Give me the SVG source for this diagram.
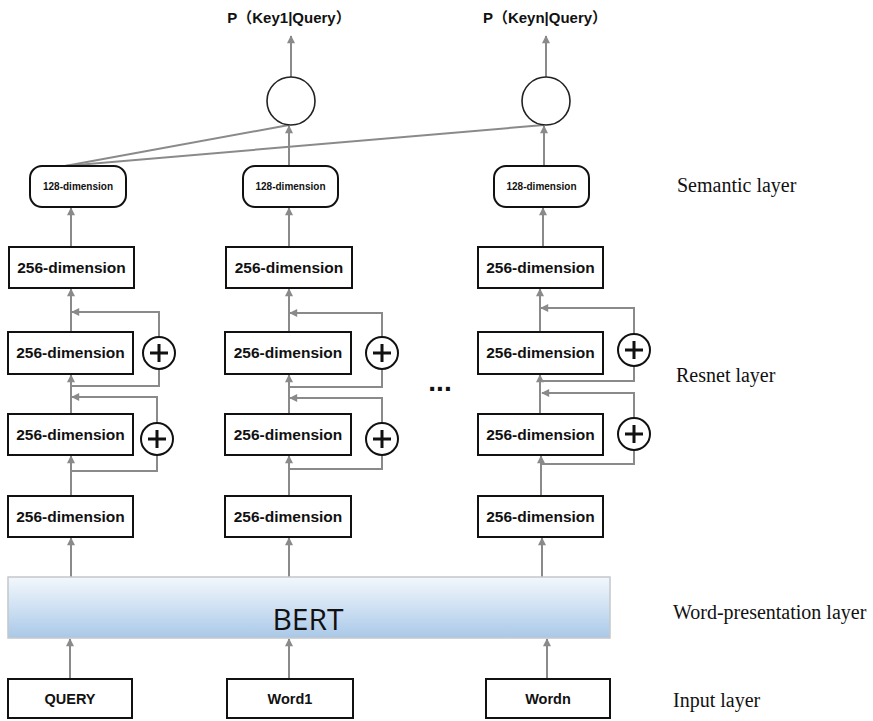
<svg xmlns="http://www.w3.org/2000/svg" width="873" height="721" viewBox="0 0 873 721">
  <style>
    .box { fill: #ffffff; stroke: #111111; stroke-width: 2; }
    .lbl { font-family: "Liberation Sans", Arial, sans-serif; font-weight: bold; fill: #111111; text-anchor: middle; }
    .d256 { font-size: 15.5px; }
    .d128 { font-size: 10px; }
    .title { font-family: "Liberation Sans", "Noto Sans CJK SC", sans-serif; font-weight: bold; font-size: 15px; fill: #111111; text-anchor: middle; }
    .layer { font-family: "Liberation Serif", "Times New Roman", serif; font-size: 20px; fill: #111111; }
    .out { fill: #ffffff; stroke: #222222; stroke-width: 1.6; }
    .plus circle { fill: #ffffff; stroke: #111111; stroke-width: 2; }
    .plus path { stroke: #111111; stroke-width: 3; fill: none; }
    .conn path { fill: none; stroke: #8a8a8a; stroke-width: 2; }
    .conn .arr { marker-end: url(#arrow); }
  </style>
  <defs>
    <marker id="arrow" viewBox="0 0 10 10" refX="9" refY="5" markerWidth="9" markerHeight="8" markerUnits="userSpaceOnUse" orient="auto">
      <path d="M0,0 L10,5 L0,10 z" fill="#8a8a8a"/>
    </marker>
    <linearGradient id="bertFill" x1="0" y1="0" x2="0" y2="1">
      <stop offset="0" stop-color="#f2f7fc"/>
      <stop offset="0.5" stop-color="#cfe1f3"/>
      <stop offset="1" stop-color="#a9c8e7"/>
    </linearGradient>
  </defs>

  <rect width="873" height="721" fill="#ffffff"/>

  <!-- connectors -->
  <g id="connectors" class="conn">
    <!-- column 1 -->
    <path class="arr" d="M70,680 V639"/>
    <path class="arr" d="M71,577 V538"/>
    <path class="arr" d="M71,496 V456"/>
    <path d="M71,471 H157 V455"/>
    <path class="arr" d="M157,423 V397 H72"/>
    <path class="arr" d="M71,414 V375"/>
    <path d="M71,386 H159 V369"/>
    <path class="arr" d="M159,337 V312 H72"/>
    <path class="arr" d="M71,332 V289"/>
    <path class="arr" d="M71,247 V208"/>
    <path stroke-width="1.6" d="M65,166 L289,125"/>
    <path stroke-width="1.6" d="M65,166 L544,125"/>

    <!-- column 2 -->
    <path class="arr" d="M289,680 V639"/>
    <path class="arr" d="M289,577 V538"/>
    <path class="arr" d="M289,496 V456"/>
    <path d="M289,469 H382 V455"/>
    <path class="arr" d="M382,423 V398 H290"/>
    <path class="arr" d="M289,414 V375"/>
    <path d="M289,387 H382 V369"/>
    <path class="arr" d="M382,337 V313 H290"/>
    <path class="arr" d="M289,332 V289"/>
    <path class="arr" d="M289,247 V208"/>
    <path class="arr" d="M289,166 V126"/>
    <path class="arr" d="M291,77 V36"/>

    <!-- column n -->
    <path class="arr" d="M547,680 V639"/>
    <path class="arr" d="M542,577 V538"/>
    <path class="arr" d="M541,496 V456"/>
    <path d="M541,464 H634 V450"/>
    <path class="arr" d="M634,418 V393 H542"/>
    <path class="arr" d="M540,414 V375"/>
    <path d="M540,381 H634 V366"/>
    <path class="arr" d="M634,334 V308 H541"/>
    <path class="arr" d="M540,332 V289"/>
    <path class="arr" d="M543,247 V208"/>
    <path class="arr" d="M544,166 V126"/>
    <path class="arr" d="M546,77 V36"/>
  </g>

  <!-- outputs -->
  <g id="title-key1"><text class="title" x="289" y="23">P（Key1|Query）</text></g>
  <g id="title-keyn"><text class="title" x="545" y="23">P（Keyn|Query）</text></g>
  <g id="score-1"><ellipse class="out" cx="291" cy="101" rx="24" ry="24"/></g>
  <g id="score-n"><ellipse class="out" cx="546" cy="101" rx="24" ry="24"/></g>

  <!-- semantic layer -->
  <g id="sem-1"><rect class="box" x="30" y="166" width="96" height="41" rx="12"/><text class="lbl d128" x="78" y="190">128-dimension</text></g>
  <g id="sem-2"><rect class="box" x="243" y="166" width="95" height="41" rx="12"/><text class="lbl d128" x="290.5" y="190">128-dimension</text></g>
  <g id="sem-n"><rect class="box" x="494" y="166" width="95" height="41" rx="12"/><text class="lbl d128" x="541.5" y="190">128-dimension</text></g>

  <!-- dense 256 (top) -->
  <g id="top-1"><rect class="box" x="9" y="247" width="125" height="41"/><text class="lbl d256" x="71.5" y="273">256-dimension</text></g>
  <g id="top-2"><rect class="box" x="226" y="247" width="126" height="41"/><text class="lbl d256" x="289" y="273">256-dimension</text></g>
  <g id="top-n"><rect class="box" x="478" y="247" width="125" height="41"/><text class="lbl d256" x="540.5" y="273">256-dimension</text></g>

  <!-- resnet blocks -->
  <g id="res-a-1"><rect class="box" x="8" y="332" width="125" height="42"/><text class="lbl d256" x="70.5" y="358">256-dimension</text></g>
  <g id="res-a-2"><rect class="box" x="225" y="332" width="126" height="42"/><text class="lbl d256" x="288" y="358">256-dimension</text></g>
  <g id="res-a-n"><rect class="box" x="478" y="332" width="125" height="42"/><text class="lbl d256" x="540.5" y="358">256-dimension</text></g>

  <g id="res-b-1"><rect class="box" x="8" y="414" width="125" height="41"/><text class="lbl d256" x="70.5" y="440">256-dimension</text></g>
  <g id="res-b-2"><rect class="box" x="225" y="414" width="126" height="41"/><text class="lbl d256" x="288" y="440">256-dimension</text></g>
  <g id="res-b-n"><rect class="box" x="478" y="414" width="125" height="41"/><text class="lbl d256" x="540.5" y="440">256-dimension</text></g>

  <!-- adders -->
  <g id="add-a-1" class="plus"><circle cx="159" cy="353" r="16"/><path d="M150,353 H168 M159,344 V362"/></g>
  <g id="add-b-1" class="plus"><circle cx="157" cy="439" r="16"/><path d="M148,439 H166 M157,430 V448"/></g>
  <g id="add-a-2" class="plus"><circle cx="382" cy="353" r="16"/><path d="M373,353 H391 M382,344 V362"/></g>
  <g id="add-b-2" class="plus"><circle cx="382" cy="439" r="16"/><path d="M373,439 H391 M382,430 V448"/></g>
  <g id="add-a-n" class="plus"><circle cx="634" cy="350" r="16"/><path d="M625,350 H643 M634,341 V359"/></g>
  <g id="add-b-n" class="plus"><circle cx="634" cy="434" r="16"/><path d="M625,434 H643 M634,425 V443"/></g>

  <g id="ellipsis"><text class="lbl" x="440" y="391" font-size="28">...</text></g>

  <!-- dense 256 (bottom) -->
  <g id="bot-1"><rect class="box" x="8" y="496" width="125" height="41"/><text class="lbl d256" x="70.5" y="522">256-dimension</text></g>
  <g id="bot-2"><rect class="box" x="225" y="496" width="126" height="41"/><text class="lbl d256" x="288" y="522">256-dimension</text></g>
  <g id="bot-n"><rect class="box" x="478" y="496" width="125" height="41"/><text class="lbl d256" x="540.5" y="522">256-dimension</text></g>

  <!-- word representation -->
  <g id="bert">
    <rect x="8" y="577" width="602" height="61" fill="url(#bertFill)" stroke="#c4c8cc" stroke-width="1.5"/>
    <text x="308" y="630" font-family="'Open Sans', 'Liberation Sans', sans-serif" font-size="30" fill="#111111" text-anchor="middle">BERT</text>
  </g>

  <!-- inputs -->
  <g id="in-query"><rect class="box" x="8" y="679" width="124" height="39"/><text class="lbl" x="70" y="704" font-size="14.5">QUERY</text></g>
  <g id="in-word1"><rect class="box" x="227" y="679" width="126" height="39"/><text class="lbl" x="290" y="704" font-size="14.5">Word1</text></g>
  <g id="in-wordn"><rect class="box" x="486" y="679" width="124" height="39"/><text class="lbl" x="548" y="704" font-size="14.5">Wordn</text></g>

  <!-- layer captions -->
  <g id="captions">
    <text class="layer" x="677" y="192">Semantic layer</text>
    <text class="layer" x="676" y="382">Resnet layer</text>
    <text class="layer" x="673" y="619">Word-presentation layer</text>
    <text class="layer" x="673" y="707">Input layer</text>
  </g>
</svg>
